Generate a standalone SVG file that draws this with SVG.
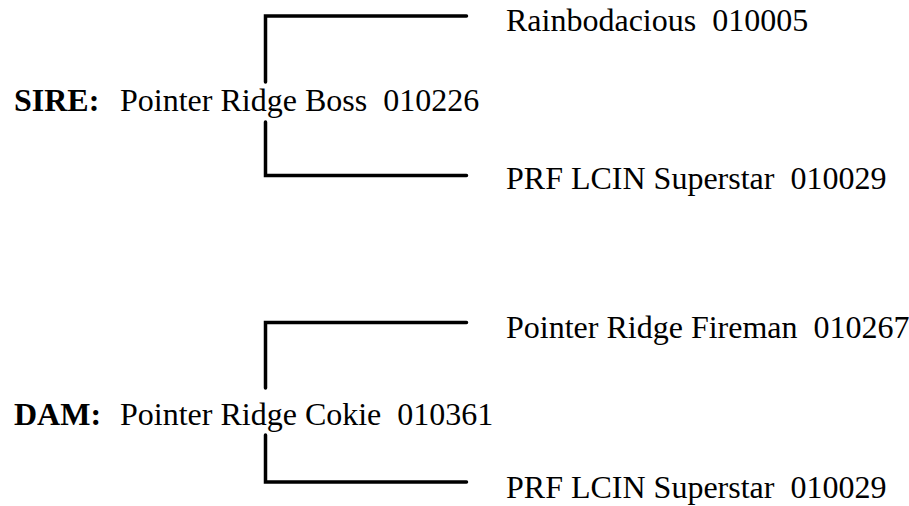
<svg xmlns="http://www.w3.org/2000/svg" width="909" height="506" viewBox="0 0 909 506">
<style>
.t{font-family:'Liberation Serif','DejaVu Serif',serif;font-size:32px;fill:#000;white-space:pre}
.b{font-weight:bold}
.c{fill:none;stroke:#000;stroke-width:3.5;stroke-linecap:round;stroke-linejoin:miter}
</style>
<rect width="909" height="506" fill="#fff"/>
<g id="connectors">
<path class="c" d="M265.5,82 V16 H466.5"/>
<path class="c" d="M265.5,122 V175.5 H466.5"/>
<path class="c" d="M265.5,388 V322.5 H466.5"/>
<path class="c" d="M265.5,435 V482 H466.5"/>
</g>
<g id="sire"><text class="t b" x="14" y="111">SIRE:</text><text class="t" x="120" y="111">Pointer Ridge Boss  010226</text></g>
<g id="sire-sire"><text class="t" x="506" y="31">Rainbodacious  010005</text></g>
<g id="sire-dam"><text class="t" x="506" y="189">PRF LCIN Superstar  010029</text></g>
<g id="dam"><text class="t b" x="14" y="425">DAM:</text><text class="t" x="120" y="425">Pointer Ridge Cokie  010361</text></g>
<g id="dam-sire"><text class="t" x="506" y="338">Pointer Ridge Fireman  010267</text></g>
<g id="dam-dam"><text class="t" x="506" y="498">PRF LCIN Superstar  010029</text></g>
</svg>
